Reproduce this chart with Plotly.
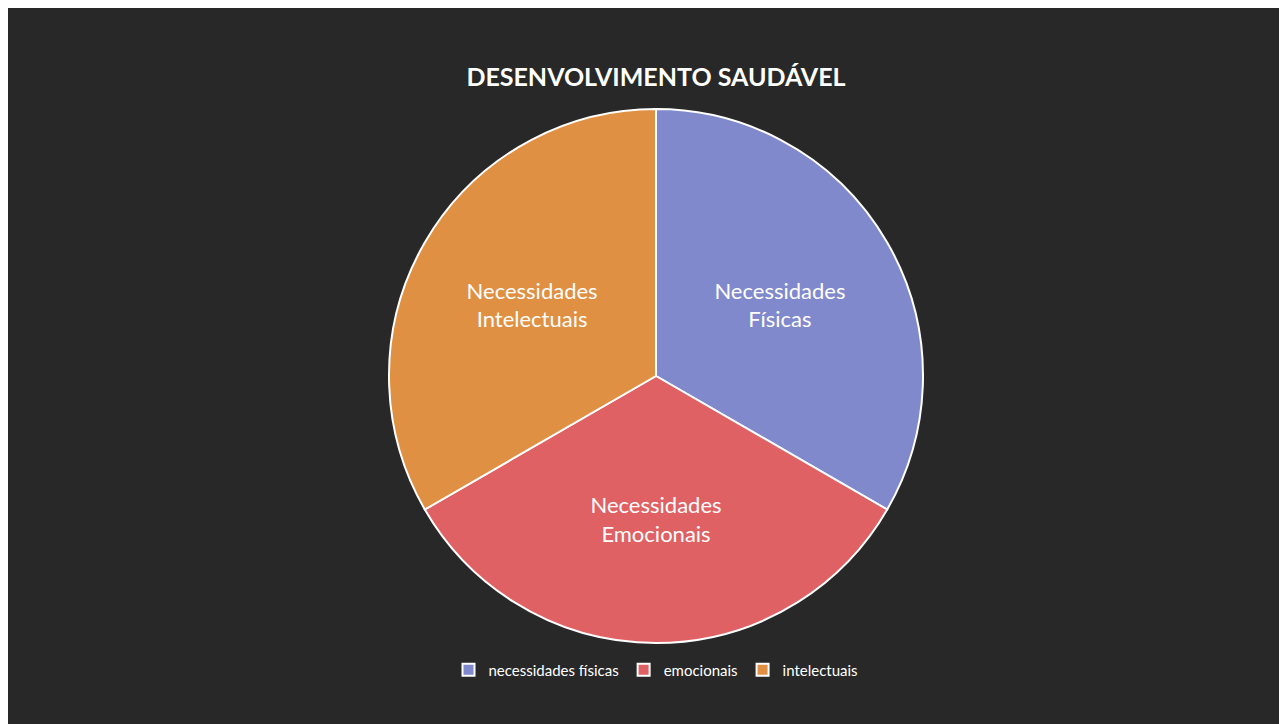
import plotly.graph_objects as go

# Data
categories = ["necessidades físicas", "emocionais", "intelectuais"]
slice_texts = ["Necessidades<br>Físicas", "Necessidades<br>Emocionais", "Necessidades<br>Intelectuais"]
values = [1, 1, 1]
colors = ["#8089CC", "#E06163", "#E09042"]

W, H = 1287, 724
cx, cy, r = 648, 368, 267

fig = go.Figure(go.Pie(
    labels=categories,
    values=values,
    text=slice_texts,
    textinfo="text",
    textposition="inside",
    insidetextorientation="horizontal",
    sort=False,
    direction="clockwise",
    rotation=0,
    marker=dict(colors=colors, line=dict(color="white", width=2)),
    textfont=dict(family="Lato, Open Sans, sans-serif", size=22, color="white"),
    hoverinfo="label+percent",
    domain=dict(x=[(cx - r) / W, (cx + r) / W], y=[(H - cy - r) / H, (H - cy + r) / H]),
))

fig.update_layout(
    width=W, height=H,
    margin=dict(l=0, r=0, t=0, b=0),
    paper_bgcolor="#282828",
    plot_bgcolor="#282828",
    title=dict(
        text="<b>DESENVOLVIMENTO SAUDÁVEL</b>",
        x=cx / W, xanchor="center",
        y=1 - 69 / H, yanchor="middle",
        font=dict(family="Lato, Open Sans, sans-serif", size=25, color="white"),
    ),
    legend=dict(
        orientation="h",
        x=cx / W, xanchor="center",
        y=1 - 662 / H, yanchor="middle",
        font=dict(family="Lato, Open Sans, sans-serif", size=15, color="white"),
        bgcolor="rgba(0,0,0,0)",
        itemwidth=30,
    ),
)

fig.write_html("out.html")
